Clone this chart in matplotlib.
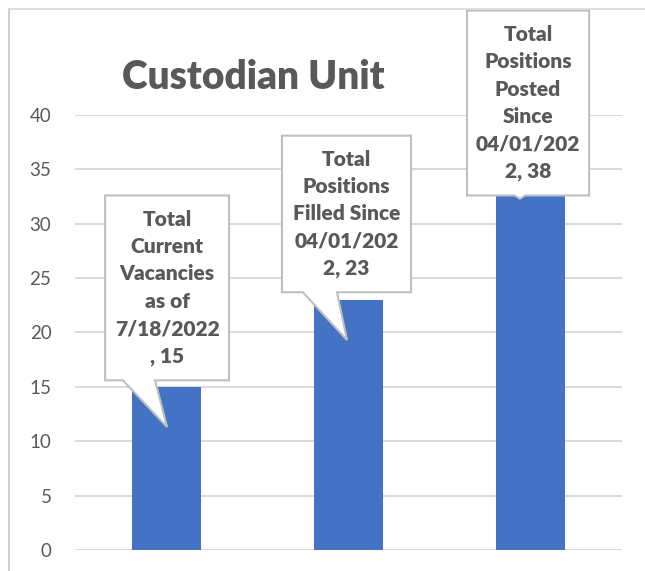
import matplotlib
matplotlib.use("Agg")
import matplotlib.pyplot as plt
from matplotlib.patches import Polygon
from matplotlib.lines import Line2D

# ---- data ----
categories = ["Total Current Vacancies as of 7/18/2022",
              "Total Positions Filled Since 04/01/2022",
              "Total Positions Posted Since 04/01/2022"]
values = [15, 23, 38]
callout_texts = ["Total\nCurrent\nVacancies\nas of\n7/18/2022\n, 15",
                 "Total\nPositions\nFilled Since\n04/01/202\n2, 23",
                 "Total\nPositions\nPosted\nSince\n04/01/202\n2, 38"]
yticks = [0, 5, 10, 15, 20, 25, 30, 35, 40]
title = "Custodian Unit"

# ---- layout (callout boxes in data units relative to bar index) ----
# (x_left_off, x_right_off, y_bottom, y_top, base_l_off, base_r_off, tip_x_off, tip_y)
callout_layout = [
    (-0.335, 0.345, 15.6, 32.6, -0.237, -0.061, 0.005, 11.3),
    (-0.365, 0.343, 23.7, 38.1, -0.250, -0.063, -0.008, 19.3),
    (-0.35, 0.32, 32.6, 49.6, -0.09, -0.03, -0.06, 32.3),
]

FONT = "Lato"
GRAY = "#595959"
BAR = "#4472C4"
GRID = "#D9D9D9"
EDGE = "#BFBFBF"

fig = plt.figure(figsize=(6.45, 5.71), dpi=100)
ax = fig.add_axes([0.1163, 0.0368, 0.848, 0.7618])

x = list(range(len(values)))
ax.bar(x, values, width=0.38, color=BAR, zorder=2)
ax.set_xlim(-0.5, len(values) - 0.5)
ax.set_ylim(0, 40)
ax.set_yticks(yticks)
ax.set_yticklabels([str(t) for t in yticks], fontsize=13.5, color=GRAY, family=FONT)
ax.set_xticks([])
ax.tick_params(axis="y", length=0, pad=17)
for s in ax.spines.values():
    s.set_visible(False)
ax.yaxis.grid(True, color=GRID, linewidth=1.4, zorder=0)
ax.set_axisbelow(True)

# callouts
for i, (txt, lay) in enumerate(zip(callout_texts, callout_layout)):
    xl, xr, yb, yt, bl, br, tx, ty = lay
    pts = [(i + xl, yt), (i + xr, yt), (i + xr, yb), (i + br, yb),
           (i + tx, ty), (i + bl, yb), (i + xl, yb)]
    poly = Polygon(pts, closed=True, facecolor="white", edgecolor=EDGE,
                   linewidth=1.5, zorder=5, clip_on=False, joinstyle="miter")
    ax.add_patch(poly)
    ax.text(i + (xl + xr) / 2, (yb + yt) / 2, txt, ha="center", va="center",
            fontsize=15, fontweight="heavy", color=GRAY, family=FONT,
            linespacing=1.52, zorder=6, clip_on=False)

fig.text(0.392, 0.865, title, ha="center", va="center", fontsize=28,
         fontweight="heavy", color=GRAY, family=FONT)

# chart border (partially visible)
fig.add_artist(Line2D([0.0135, 0.0135], [0, 0.984], transform=fig.transFigure,
                      color="#D0D0D0", linewidth=1.5))
fig.add_artist(Line2D([0.0135, 1.0], [0.984, 0.984], transform=fig.transFigure,
                      color="#D9D9D9", linewidth=1.2))

fig.savefig("out.png", dpi=100)
